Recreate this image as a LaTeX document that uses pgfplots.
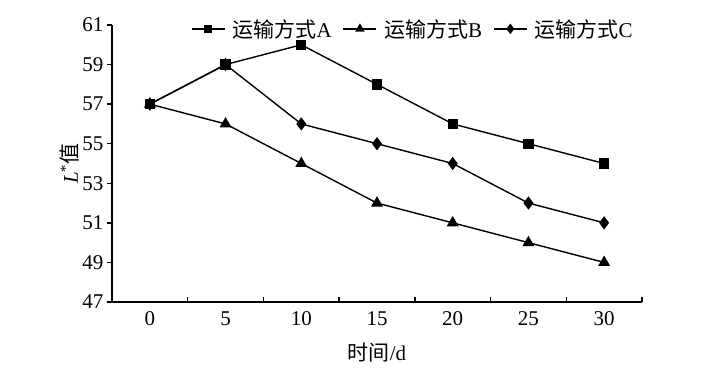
\documentclass[border=0pt]{standalone}
\usepackage{fontspec}
\setmainfont{Liberation Serif}
\newfontfamily\cjk{Noto Sans CJK SC}
\usepackage{pgfplots}
\pgfplotsset{compat=1.18}
\begin{document}
\begin{tikzpicture}
\pgfplotsset{
  legimg/.style={legend image code/.code={
    \draw[mark repeat=2,mark phase=2, every mark/.append style={scale=0.75}] plot coordinates {(0pt,0pt) (16.5pt,0pt) (33pt,0pt)};}}
}
\begin{axis}[
  name=ax,
  scale only axis,
  width=530pt, height=277pt,
  xmin=-2.5, xmax=32.5,
  ymin=47, ymax=61,
  axis x line*=bottom,
  axis y line*=left,
  axis line style={line width=1.3pt, -},
  every tick/.style={line width=1.3pt, black},
  xtick={2.5,7.5,...,32.5},
  xticklabels={},
  xtick align=inside,
  extra x ticks={0,5,...,30},
  extra x tick style={major tick length=0pt},
  ytick={47,49,...,61},
  ytick align=outside,
  major tick length=5pt,
  /pgf/number format/assume math mode=true,
  tick label style={font=\fontsize{21}{24}\selectfont},
  x tick label style={yshift=-6pt},
  label style={font=\fontsize{21}{24}\selectfont},
  xlabel={{\cjk 时间}/d},
  ylabel={\textit{L}\textsuperscript{*}{\cjk 值}},
  xlabel style={yshift=-10pt},
  ylabel style={yshift=-4pt},
  clip=false,
  legend columns=3,
  legimg,
  legend style={draw=none, fill=none, inner sep=0pt, at={(rel axis cs:0.149,0.986)}, anchor=west,
    font=\fontsize{21}{24}\selectfont,
    /tikz/every odd column/.append style={column sep=6pt},
    /tikz/every even column/.append style={column sep=10pt},
    nodes={inner sep=1pt}},
  every axis plot/.append style={black, line width=1.4pt, mark options={solid}},
]
\addplot[mark=square*, mark size=4.5pt] coordinates {(0,57) (5,59) (10,60) (15,58) (20,56) (25,55) (30,54)};
\addlegendentry{{\cjk 运输方式}A}
\addplot[mark=triangle*, mark size=5.5pt] coordinates {(0,57) (5,56) (10,54) (15,52) (20,51) (25,50) (30,49)};
\addlegendentry{{\cjk 运输方式}B}
\addplot[mark=diamond*, mark size=5.5pt] coordinates {(0,57) (5,59) (10,56) (15,55) (20,54) (25,52) (30,51)};
\addlegendentry{{\cjk 运输方式}C}
\end{axis}
\path[use as bounding box] ([shift={(-112pt,-66pt)}]ax.south west) rectangle ([shift={(75pt,25pt)}]ax.north east);
\end{tikzpicture}
\end{document}
